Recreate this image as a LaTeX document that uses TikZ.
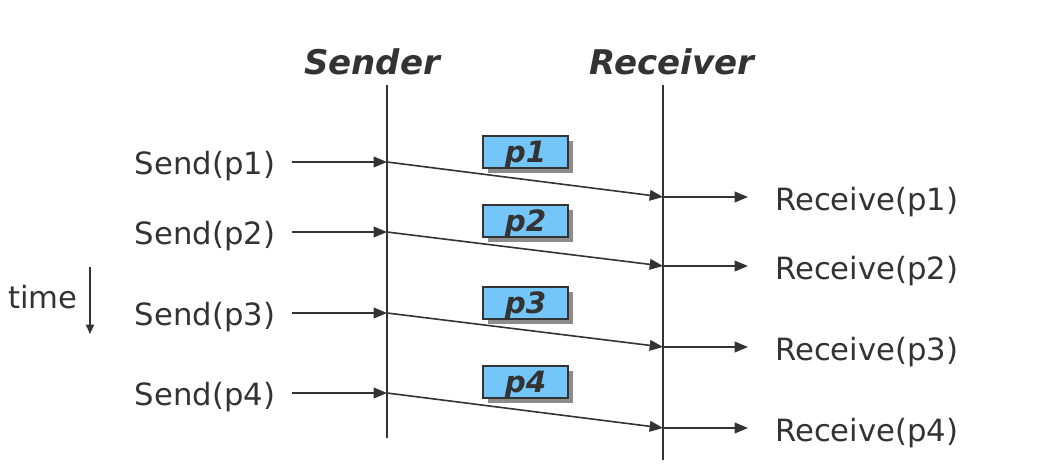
\documentclass[tikz,border=0pt]{standalone}
\usepackage{fontspec}
\setmainfont{DejaVu Sans}
\usetikzlibrary{arrows.meta,shadows}
\definecolor{ink}{HTML}{333333}
\definecolor{pkt}{HTML}{73C6F7}
\tikzset{
  life/.style={draw=ink,line width=1.3pt},
  msg/.style={draw=ink,line width=1.2pt,-{Triangle[length=10pt,width=8pt]}},
  lbl/.style={text=ink,font=\fontsize{23}{27}\selectfont,inner sep=0pt},
  head/.style={text=ink,font=\fontsize{25.5}{30}\selectfont\bfseries\itshape,inner sep=0pt},
  pbox/.style={draw=ink,line width=1.2pt,fill=pkt,minimum width=63.75pt,minimum height=24pt,inner sep=0pt,
    text height=16pt,text depth=0pt,
    text=ink,font=\fontsize{22}{26}\selectfont\bfseries\itshape,
    drop shadow={shadow xshift=3.5pt,shadow yshift=-3.5pt,fill=black!45,opacity=1}},
}
\begin{document}
\begin{tikzpicture}[x=0.75pt,y=-0.75pt]
\useasboundingbox (0,0) rectangle (1044,470);
% headers
\node[head] (hs) at (372,62) {Sender};
\node[head] (hr) at (672,62) {Receiver};
% lifelines
\coordinate (s0) at (387,85); \coordinate (s1) at (387,438);
\coordinate (r0) at (663,85); \coordinate (r1) at (663,460);
\draw[life] (s0) -- (s1);
\draw[life] (r0) -- (r1);
% time
\node[lbl,anchor=east] (time) at (78,297) {time};
\coordinate (t0) at (90,267); \coordinate (t1) at (90,334);
\draw[draw=ink,line width=1.2pt,-{Triangle[length=7pt,width=6pt]}] (t0) -- (t1);
% rows
\foreach \i/\ys/\yr/\yb in {1/162/197/152, 2/232/266/221, 3/313/347/303, 4/393/428/382}{
  \coordinate (a\i) at (292,\ys);
  \coordinate (b\i) at (387,\ys);
  \coordinate (c\i) at (663,\yr);
  \coordinate (d\i) at (748,\yr);
  \node[lbl] (send\i) at (205,\ys+4) {Send(p\i)};
  \node[lbl,anchor=west] (recv\i) at (775,\yr+5) {Receive(p\i)};
  \draw[msg] (a\i) -- (b\i);
  \draw[msg] (b\i) -- (c\i);
  \draw[msg] (c\i) -- (d\i);
  \node[pbox] (p\i) at (525.5,\yb) {p\i};
}
\end{tikzpicture}
\end{document}
